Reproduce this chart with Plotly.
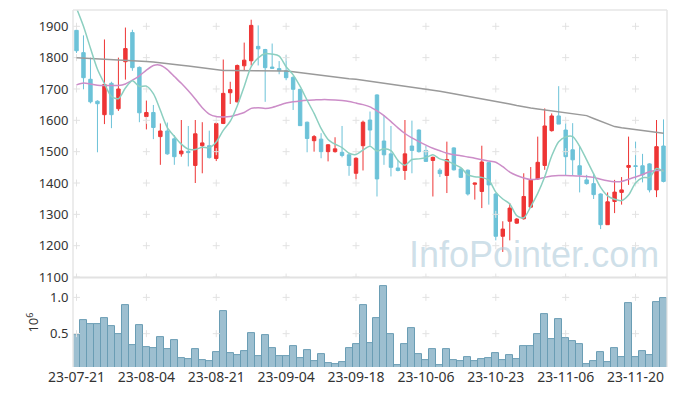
import pandas as pd
import plotly.graph_objects as go

holidays = ['2023-08-15', '2023-09-28', '2023-09-29', '2023-10-02', '2023-10-03', '2023-10-09']
dates = [d.strftime('%Y-%m-%d') for d in pd.bdate_range('2023-07-21', '2023-11-24')
         if d.strftime('%Y-%m-%d') not in holidays]

open_ = [1887, 1816, 1731, 1661, 1618, 1718, 1637, 1787, 1880, 1769, 1612, 1625,
         1548, 1566, 1541, 1493, 1501, 1456, 1519, 1519, 1478, 1590, 1688, 1659,
         1774, 1790, 1836, 1826, 1770, 1765, 1758, 1737, 1699, 1594, 1535, 1540,
         1500, 1500, 1498, 1490, 1431, 1519, 1601, 1681, 1534, 1493, 1448, 1440,
         1518, 1569, 1504, 1472, 1441, 1424, 1512, 1445, 1441, 1396, 1373, 1465,
         1365, 1230, 1278, 1272, 1286, 1323, 1413, 1456, 1567, 1614, 1569, 1506,
         1455, 1410, 1398, 1365, 1267, 1341, 1370, 1450, 1455, 1455, 1461, 1378, 1518]
high = [1890, 1871, 1800, 1664, 1858, 1723, 1800, 1896, 1889, 1772, 1663, 1649,
        1590, 1593, 1553, 1601, 1582, 1601, 1594, 1567, 1593, 1794, 1723, 1778,
        1848, 1921, 1903, 1828, 1845, 1789, 1808, 1741, 1700, 1596, 1553, 1559,
        1524, 1546, 1582, 1496, 1482, 1599, 1628, 1683, 1617, 1582, 1474, 1601,
        1599, 1571, 1518, 1484, 1447, 1532, 1514, 1447, 1443, 1401, 1519, 1467,
        1368, 1278, 1336, 1288, 1431, 1451, 1548, 1638, 1622, 1709, 1591, 1591,
        1519, 1426, 1431, 1367, 1370, 1410, 1419, 1548, 1532, 1493, 1463, 1601, 1603]
low = [1815, 1699, 1654, 1498, 1588, 1575, 1630, 1730, 1758, 1594, 1571, 1540,
       1458, 1490, 1458, 1484, 1453, 1400, 1431, 1478, 1470, 1588, 1652, 1657,
       1758, 1775, 1775, 1659, 1764, 1747, 1728, 1633, 1582, 1498, 1500, 1479,
       1469, 1497, 1482, 1423, 1412, 1440, 1519, 1357, 1458, 1421, 1437, 1410,
       1431, 1497, 1467, 1357, 1419, 1368, 1440, 1416, 1360, 1347, 1320, 1331,
       1217, 1180, 1217, 1270, 1283, 1320, 1410, 1442, 1564, 1588, 1423, 1423,
       1370, 1395, 1349, 1253, 1267, 1304, 1331, 1394, 1394, 1402, 1370, 1355, 1402]
close = [1822, 1736, 1659, 1653, 1714, 1618, 1700, 1829, 1768, 1624, 1625, 1577,
         1566, 1493, 1484, 1502, 1497, 1557, 1528, 1481, 1590, 1686, 1698, 1775,
         1792, 1903, 1828, 1768, 1766, 1758, 1736, 1699, 1583, 1542, 1548, 1500,
         1522, 1509, 1488, 1456, 1479, 1594, 1569, 1413, 1490, 1450, 1440, 1493,
         1504, 1500, 1469, 1482, 1430, 1475, 1442, 1418, 1365, 1400, 1467, 1394,
         1230, 1253, 1320, 1285, 1357, 1409, 1466, 1582, 1614, 1588, 1484, 1474,
         1426, 1398, 1363, 1267, 1340, 1371, 1378, 1456, 1453, 1426, 1378, 1516, 1405]
volume = [0.477, 0.685, 0.63, 0.63, 0.71, 0.60, 0.50, 0.89, 0.34, 0.615, 0.31, 0.30,
          0.454, 0.29, 0.417, 0.167, 0.153, 0.29, 0.14, 0.125, 0.25, 0.815, 0.236, 0.208,
          0.255, 0.514, 0.185, 0.477, 0.306, 0.185, 0.194, 0.333, 0.157, 0.268, 0.116, 0.213,
          0.097, 0.083, 0.11, 0.305, 0.36, 0.90, 0.375, 0.72, 1.157, 0.49, 0.07, 0.35,
          0.57, 0.22, 0.14, 0.28, 0.07, 0.29, 0.14, 0.125, 0.18, 0.125, 0.15, 0.165,
          0.235, 0.14, 0.21, 0.15, 0.333, 0.333, 0.50, 0.764, 0.43, 0.694, 0.444, 0.40,
          0.36, 0.083, 0.125, 0.25, 0.11, 0.305, 0.18, 0.917, 0.18, 0.264, 0.21, 0.93, 0.986]
ma5 = [1958, 1900, 1830, 1763, 1717, 1676, 1669, 1703, 1726, 1708, 1709, 1685,
       1632, 1577, 1549, 1524, 1508, 1507, 1514, 1513, 1531, 1568, 1597, 1646,
       1708, 1771, 1799, 1813, 1811, 1805, 1771, 1745, 1708, 1664, 1622, 1574,
       1539, 1524, 1513, 1495, 1491, 1505, 1517, 1502, 1509, 1503, 1472, 1457,
       1475, 1477, 1481, 1490, 1477, 1471, 1460, 1449, 1426, 1420, 1418, 1409,
       1371, 1349, 1333, 1296, 1289, 1325, 1367, 1420, 1486, 1532, 1547, 1548,
       1517, 1474, 1429, 1386, 1359, 1348, 1344, 1362, 1400, 1417, 1418, 1446, 1436]
ma20 = [1713, 1719, 1716, 1712, 1711, 1711, 1711, 1716, 1728, 1742, 1760, 1775,
        1776, 1762, 1740, 1718, 1694, 1668, 1640, 1620, 1612, 1611, 1612, 1618,
        1625, 1638, 1640, 1638, 1641, 1648, 1655, 1659, 1662, 1664, 1665, 1666,
        1666, 1665, 1663, 1660, 1655, 1650, 1643, 1630, 1615, 1596, 1576, 1558,
        1544, 1532, 1521, 1511, 1503, 1495, 1490, 1487, 1483, 1479, 1474, 1470,
        1466, 1452, 1435, 1424, 1416, 1411, 1413, 1418, 1422, 1424, 1424, 1423,
        1422, 1421, 1418, 1412, 1407, 1404, 1405, 1412, 1419, 1427, 1436, 1440, 1441]
ma60 = [1800, 1799, 1798, 1797, 1796, 1795, 1794, 1793, 1792, 1790, 1788, 1786,
        1784, 1782, 1779, 1776, 1773, 1770, 1767, 1763, 1760, 1759, 1759, 1759,
        1759, 1758, 1758, 1758, 1758, 1758, 1757, 1755, 1752, 1749, 1746, 1743,
        1740, 1737, 1735, 1733, 1731, 1728, 1725, 1722, 1719, 1716, 1713, 1710,
        1707, 1704, 1700, 1697, 1693, 1689, 1685, 1681, 1677, 1673, 1670, 1666,
        1661, 1657, 1652, 1647, 1642, 1639, 1636, 1633, 1630, 1627, 1624, 1621,
        1618, 1615, 1606, 1597, 1588, 1580, 1576, 1573, 1570, 1567, 1564, 1561, 1559]

price_ticks = [1100, 1200, 1300, 1400, 1500, 1600, 1700, 1800, 1900]
vol_ticks = [0.5, 1.0]
tick_idx = [0, 10, 20, 30, 40, 50, 60, 70, 80]
tick_dates = [dates[i] for i in tick_idx]
tick_text = [d[2:] for d in tick_dates]

FONT = 'Noto Sans'
UP = '#ee3535'
DOWN = '#6cc2d8'

fig = go.Figure()

fig.add_trace(go.Bar(x=dates, y=volume, marker=dict(color='rgba(140,180,200,0.85)', line=dict(color='#6a9db4', width=1)),
                     showlegend=False, xaxis='x', yaxis='y2'))

# grid crosses
cx, cy = [], []
for d in tick_dates:
    for p in price_ticks:
        cx.append(d); cy.append(p)
fig.add_trace(go.Scatter(x=cx, y=cy, mode='markers', hoverinfo='skip', showlegend=False,
                         marker=dict(symbol='cross-thin', size=5, line=dict(color='#e2e2e2', width=1)),
                         xaxis='x', yaxis='y'))
vx, vy = [], []
for d in tick_dates:
    for v in vol_ticks:
        vx.append(d); vy.append(v)
fig.add_trace(go.Scatter(x=vx, y=vy, mode='markers', hoverinfo='skip', showlegend=False,
                         marker=dict(symbol='cross-thin', size=5, line=dict(color='#e2e2e2', width=1)),
                         xaxis='x', yaxis='y2'))

fig.add_trace(go.Scatter(x=dates, y=ma60, mode='lines', line=dict(color='#9a9a9a', width=1.5),
                         showlegend=False, xaxis='x', yaxis='y'))
fig.add_trace(go.Scatter(x=dates, y=ma20, mode='lines', line=dict(color='#cc8dc8', width=1.5, shape='spline', smoothing=0.6),
                         showlegend=False, xaxis='x', yaxis='y'))

fig.add_trace(go.Candlestick(
    x=dates, open=open_, high=high, low=low, close=close,
    increasing=dict(line=dict(color=UP, width=1), fillcolor=UP),
    decreasing=dict(line=dict(color=DOWN, width=1), fillcolor=DOWN),
    whiskerwidth=0, showlegend=False, xaxis='x', yaxis='y'))

fig.add_trace(go.Scatter(x=dates, y=ma5, mode='lines', line=dict(color='#8ccfc0', width=1.5, shape='spline', smoothing=0.8),
                         showlegend=False, xaxis='x', yaxis='y'))

# the page body adds an 8px offset, so the figure is 8px smaller and margins shifted
fig.update_layout(
    width=669, height=388,
    margin=dict(l=65, r=10, t=2, b=29, autoexpand=False),
    paper_bgcolor='white', plot_bgcolor='white',
    font=dict(family=FONT, size=13, color='#444'),
    bargap=0,
    xaxis=dict(type='category', categoryorder='array', categoryarray=dates,
               range=[-0.5, 84.5], rangeslider=dict(visible=False), automargin=False,
               tickmode='array', tickvals=tick_dates, ticktext=tick_text, tickangle=0,
               showgrid=False, zeroline=False, showline=False,
               ticks='', anchor='y2',
               tickfont=dict(size=14, color='#333')),
    yaxis=dict(domain=[0.252, 1.0], range=[1100, 1952], tickvals=price_ticks, automargin=False,
               showgrid=False, zeroline=False, showline=False,
               ticks='outside', ticklen=1, tickcolor='rgba(0,0,0,0)',
               tickfont=dict(size=13, color='#333')),
    yaxis2=dict(domain=[0.0, 0.249], range=[0.04, 1.266], tickvals=vol_ticks, ticktext=['0.5', '1.0'],
                showgrid=False, zeroline=False, showline=False, automargin=False,
                ticks='outside', ticklen=1, tickcolor='rgba(0,0,0,0)',
                tickfont=dict(size=13, color='#333'),
                title=dict(text='10<sup>6</sup>', font=dict(size=13, color='#333'), standoff=8)),
    shapes=[
        dict(type='line', xref='paper', yref='paper', x0=0, x1=1, y0=1, y1=1, line=dict(color='#e6e6e6', width=1.5)),
        dict(type='line', xref='paper', yref='paper', x0=0, x1=0, y0=0, y1=1, line=dict(color='#e6e6e6', width=1.5)),
        dict(type='line', xref='paper', yref='paper', x0=1, x1=1, y0=0, y1=1, line=dict(color='#e6e6e6', width=1.5)),
        dict(type='line', xref='paper', yref='paper', x0=0, x1=1, y0=0.2505, y1=0.2505, line=dict(color='#e2e2e2', width=2)),
    ],
    annotations=[dict(text='InfoPointer.com', xref='paper', yref='paper', x=0.99, y=0.316,
                      xanchor='right', yanchor='middle', showarrow=False,
                      font=dict(family='Liberation Sans', size=36, color='rgba(175,203,218,0.6)'))],
)

fig.write_html('out.html')
